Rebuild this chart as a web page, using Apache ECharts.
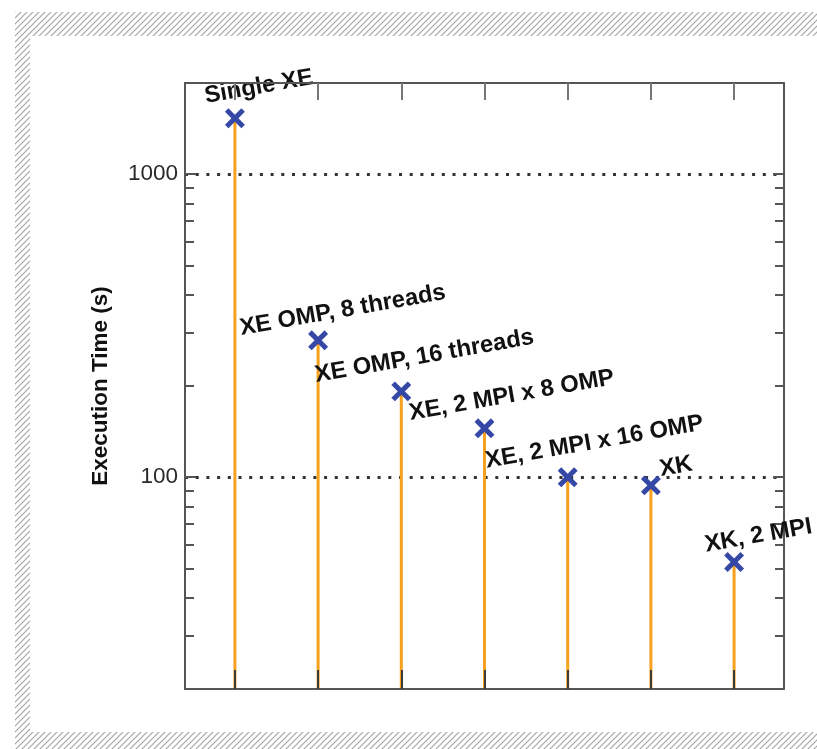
<!DOCTYPE html>
<html>
<head>
<meta charset="utf-8">
<script src="https://cdn.jsdelivr.net/npm/echarts@6/dist/echarts.min.js"></script>
<style>
  html, body { margin: 0; padding: 0; background: #fff; }
  #wrap { position: relative; width: 817px; height: 749px; overflow: hidden; background: #fff; }
  #hatch { position: absolute; left: 15px; top: 12px; width: 802px; height: 737px;
    background-color: #fff;
    background-image: url("data:image/svg+xml;utf8,<svg xmlns='http://www.w3.org/2000/svg' width='6' height='6'><path d='M-1,7 L7,-1 M-4,4 L4,-4 M2,10 L10,2' stroke='%23a6a6a6' stroke-width='1.2'/></svg>");
    background-size: 6px 6px; }
  #inner { position: absolute; left: 30px; top: 36px; width: 787px; height: 696px; background: #fff; }
  #chart { position: absolute; left: 0; top: 0; width: 817px; height: 749px; }
</style>
</head>
<body>
<div id="wrap">
  <div id="hatch"></div>
  <div id="inner"></div>
  <div id="chart"></div>
</div>
<script>
// ---- data ----
const categories = ['Single XE', 'XE OMP, 8 threads', 'XE OMP, 16 threads', 'XE, 2 MPI x 8 OMP', 'XE, 2 MPI x 16 OMP', 'XK', 'XK, 2 MPI'];
const positions = [1, 2, 3, 4, 5, 6, 7];
const execTimes = [1530, 283, 192, 145, 100, 94, 52.5];
const yTickLabels = [100, 1000];
const yMinorTicks = [20, 30, 40, 50, 60, 70, 80, 90, 200, 300, 400, 500, 600, 700, 800, 900];
const yAxisName = 'Execution Time (s)';
const yMin = 20, yMax = 2000;
const xMin = 0.4, xMax = 7.6;

// ---- label placement (style, px relative to marker) ----
const labelOffsets = [[-28, -15], [-76, -5], [-84, -9], [-73, -8], [-80, -9], [11, -9], [-27, -10]];

const FONT = '"Liberation Sans", Arial, Helvetica, sans-serif';
const chart = echarts.init(document.getElementById('chart'), null, { renderer: 'canvas' });

const axisGray = '#555';
const rot = 10 * Math.PI / 180;

function makeY(position, ticks, showLine, withLabels, tickLen) {
  return {
    type: 'log', logBase: 10, min: yMin, max: yMax, position: position, gridIndex: 0,
    axisLine: { show: showLine, lineStyle: { color: axisGray, width: 2 } },
    axisTick: { show: true, inside: true, length: tickLen, customValues: ticks, lineStyle: { color: axisGray, width: 2 } },
    axisLabel: withLabels ? { show: true, customValues: yTickLabels, margin: 7, color: '#2a2a2a', fontFamily: FONT, fontSize: 22.5, formatter: v => String(v) } : { show: false },
    splitLine: withLabels ? { show: true, lineStyle: { color: '#333', width: 3, type: [3, 7.7] } } : { show: false },
    name: withLabels ? yAxisName : '',
    nameLocation: 'middle', nameGap: 73, nameRotate: 90,
    nameTextStyle: { fontFamily: FONT, fontWeight: 'bold', fontSize: 22.5, color: '#111' }
  };
}

const data = positions.map((p, i) => [p, execTimes[i], i]);

chart.setOption({
  animation: false,
  backgroundColor: 'transparent',
  grid: { left: 185, top: 83, right: 33, bottom: 60, containLabel: false },
  xAxis: [
    { type: 'value', min: xMin, max: xMax, position: 'bottom', z: 5,
      axisLine: { show: true, onZero: false, lineStyle: { color: axisGray, width: 2 } },
      axisTick: { show: true, inside: true, length: 19, customValues: positions, lineStyle: { color: '#3b3b3b', width: 2 } },
      axisLabel: { show: false }, splitLine: { show: false } },
    { type: 'value', min: xMin, max: xMax, position: 'top', z: 5,
      axisLine: { show: true, onZero: false, lineStyle: { color: axisGray, width: 2 } },
      axisTick: { show: true, inside: true, length: 17, customValues: positions, lineStyle: { color: '#777', width: 2 } },
      axisLabel: { show: false }, splitLine: { show: false } }
  ],
  yAxis: [
    makeY('left', yTickLabels, true, true, 11),
    makeY('left', yMinorTicks, false, false, 9),
    makeY('right', yTickLabels, true, false, 11),
    makeY('right', yMinorTicks, false, false, 9)
  ],
  series: [{
    type: 'custom',
    xAxisIndex: 0, yAxisIndex: 0,
    clip: false,
    z: 3,
    data: data,
    encode: { x: 0, y: 1 },
    renderItem: function (params, api) {
      const x = api.value(0), v = api.value(1), idx = api.value(2);
      const p = api.coord([x, v]);
      const b = api.coord([x, yMin]);
      const d = 8.2;
      const off = labelOffsets[idx];
      return {
        type: 'group',
        children: [
          { type: 'line', shape: { x1: p[0], y1: b[1], x2: p[0], y2: p[1] },
            style: { stroke: '#F6A11E', lineWidth: 3 } },
          { type: 'line', shape: { x1: p[0] - d, y1: p[1] - d, x2: p[0] + d, y2: p[1] + d },
            style: { stroke: '#3548A6', lineWidth: 5 } },
          { type: 'line', shape: { x1: p[0] - d, y1: p[1] + d, x2: p[0] + d, y2: p[1] - d },
            style: { stroke: '#3548A6', lineWidth: 5 } },
          { type: 'text', x: p[0] + off[0], y: p[1] + off[1] + 5, rotation: rot,
            style: { text: categories[idx], fill: '#111', font: 'bold 23.8px ' + FONT, align: 'left', verticalAlign: 'bottom' } }
        ]
      };
    }
  }]
});
</script>
</body>
</html>
